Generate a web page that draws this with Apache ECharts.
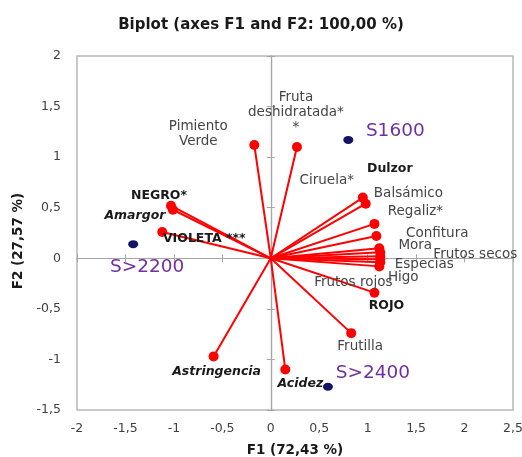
<!DOCTYPE html>
<html>
<head>
<meta charset="utf-8">
<script src="https://cdn.jsdelivr.net/npm/echarts@6/dist/echarts.min.js"></script>
<style>
  html, body { margin: 0; padding: 0; background: #fff; }
  #chart { width: 522px; height: 457px; }
</style>
</head>
<body>
<div id="chart"></div>
<script>
// variables (loadings on F1 / F2)
const varNames = ['Pimiento\nVerde', 'Fruta\ndeshidratada*\n*', 'Dulzor', 'Ciruela*', 'Balsámico', 'Regaliz*',
  'Confitura', 'Mora', 'Frutos secos', 'Especias', 'Higo', 'Frutos rojos', 'ROJO', 'Frutilla',
  'Acidez', 'Astringencia', 'VIOLETA ***', 'Amargor', 'NEGRO*']
const varF1 = [-0.17, 0.27, 0.95, 0.98, 1.07, 1.09, 1.12, 1.13, 1.13, 1.13, 1.13, 1.12, 1.07, 0.83, 0.15, -0.59, -1.12, -1.01, -1.03]
const varF2 = [1.12, 1.10, 0.60, 0.54, 0.34, 0.22, 0.10, 0.06, 0.02, -0.01, -0.04, -0.08, -0.34, -0.74, -1.10, -0.97, 0.26, 0.48, 0.52]

// observations
const obsNames = ['S1600', 'S>2200', 'S>2400']
const obsF1 = [0.80, -1.42, 0.59]
const obsF2 = [1.17, 0.14, -1.27]

const xTicks = { min: -2, max: 2.5, step: 0.5 }
const yTicks = { min: -1.5, max: 2, step: 0.5 }

// label placement (px offset from the point) and font style
const varLabelOffset = [[-56, -11], [-1, -35], [27, -29], [-39, -23], [34, -30], [39, -25],
  [58, -15], [35, -7], [95, -2], [44, 5], [23, 15], [-26, 16], [12, 13], [9, 13],
  [15, 14], [3, 15], [42, 7], [-38, 6], [-12, -10]]
const varLabelKind = ['n', 'n', 'b', 'n', 'n', 'n', 'n', 'n', 'n', 'n', 'n', 'n', 'b', 'n', 'bi', 'bi', 'b', 'bi', 'b']
const obsLabelOffset = [[47, -9], [14, 23], [45, -14]]

const FONT = 'DejaVu Sans'
const fmt = (v) => String(v).replace('.', ',')

const vars = varNames.map((n, i) => {
  const k = varLabelKind[i]
  return {
    name: n,
    value: [varF1[i], varF2[i]],
    label: {
      offset: varLabelOffset[i],
      fontWeight: k === 'n' ? 'normal' : 'bold',
      fontStyle: k === 'bi' ? 'italic' : 'normal',
      color: k === 'n' ? '#454545' : '#1a1a1a',
      fontSize: k === 'n' ? 13.5 : 12.5,
    },
  }
})

const obs = obsNames.map((n, i) => ({
  name: n,
  value: [obsF1[i], obsF2[i]],
  label: { offset: obsLabelOffset[i] },
}))

const chart = echarts.init(document.getElementById('chart'))

const baseX = { type: 'value', min: xTicks.min, max: xTicks.max, interval: xTicks.step, splitLine: { show: false } }
const baseY = { type: 'value', min: yTicks.min, max: yTicks.max, interval: yTicks.step, splitLine: { show: false } }
const zeroLine = { show: true, onZero: true, lineStyle: { color: '#a6a6a6', width: 1.2 } }

chart.setOption({
  animation: false,
  backgroundColor: '#fff',
  title: {
    text: 'Biplot (axes F1 and F2: 100,00 %)',
    left: 'center',
    top: 13,
    textStyle: { fontFamily: FONT, fontSize: 15, fontWeight: 'bold', color: '#1a1a1a' },
  },
  grid: {
    left: 77, right: 9, top: 56, bottom: 47,
    outerBoundsMode: 'none',
    show: true, borderColor: '#b8b8b8', borderWidth: 1.5,
  },
  xAxis: [
    {
      ...baseX,
      position: 'bottom',
      axisLine: { show: false, onZero: false },
      axisTick: { show: false },
      axisLabel: { formatter: fmt, color: '#404040', fontFamily: FONT, fontSize: 12.5, margin: 12 },
      name: 'F1 (72,43 %)',
      nameLocation: 'middle',
      nameGap: 33,
      nameTextStyle: { fontFamily: FONT, fontSize: 13.5, fontWeight: 'bold', color: '#1a1a1a' },
    },
    { ...baseX, axisLine: zeroLine, axisTick: { show: true, inside: true, length: 4, lineStyle: { color: '#a6a6a6' } }, axisLabel: { show: false } },
    { ...baseX, axisLine: zeroLine, axisTick: { show: true, inside: false, length: 4, lineStyle: { color: '#a6a6a6' } }, axisLabel: { show: false } },
  ],
  yAxis: [
    {
      ...baseY,
      position: 'left',
      axisLine: { show: false, onZero: false },
      axisTick: { show: false },
      axisLabel: { formatter: fmt, color: '#404040', fontFamily: FONT, fontSize: 12.5, margin: 16 },
      name: 'F2 (27,57 %)',
      nameLocation: 'middle',
      nameGap: 46,
      nameTextStyle: { fontFamily: FONT, fontSize: 13.5, fontWeight: 'bold', color: '#1a1a1a', padding: [0, 16, 0, 0] },
    },
    { ...baseY, axisLine: zeroLine, axisTick: { show: true, inside: true, length: 4, lineStyle: { color: '#a6a6a6' } }, axisLabel: { show: false } },
    { ...baseY, axisLine: zeroLine, axisTick: { show: true, inside: false, length: 4, lineStyle: { color: '#a6a6a6' } }, axisLabel: { show: false } },
  ],
  series: [
    {
      type: 'custom',
      silent: true,
      data: vars.map((d) => d.value),
      renderItem: (params, api) => {
        const o = api.coord([0, 0])
        const p = api.coord([api.value(0), api.value(1)])
        return {
          type: 'line',
          shape: { x1: o[0], y1: o[1], x2: p[0], y2: p[1] },
          style: { stroke: '#ff0000', lineWidth: 2 },
        }
      },
      z: 3,
    },
    {
      type: 'scatter',
      data: vars,
      symbol: 'circle',
      symbolSize: 10,
      itemStyle: { color: '#ff0000', opacity: 1 },
      label: {
        show: true,
        position: 'inside',
        formatter: (p) => p.name,
        fontFamily: FONT,
        align: 'center',
        verticalAlign: 'middle',
        lineHeight: 15,
      },
      z: 4,
    },
    {
      type: 'scatter',
      data: obs,
      symbol: 'circle',
      symbolSize: [10, 8],
      itemStyle: { color: '#141466', opacity: 1 },
      label: {
        show: true,
        position: 'inside',
        formatter: (p) => p.name,
        fontFamily: FONT,
        fontSize: 18.5,
        color: '#7030a0',
        align: 'center',
        verticalAlign: 'middle',
      },
      z: 4,
    },
  ],
})

window.addEventListener('resize', () => chart.resize())
</script>
</body>
</html>
